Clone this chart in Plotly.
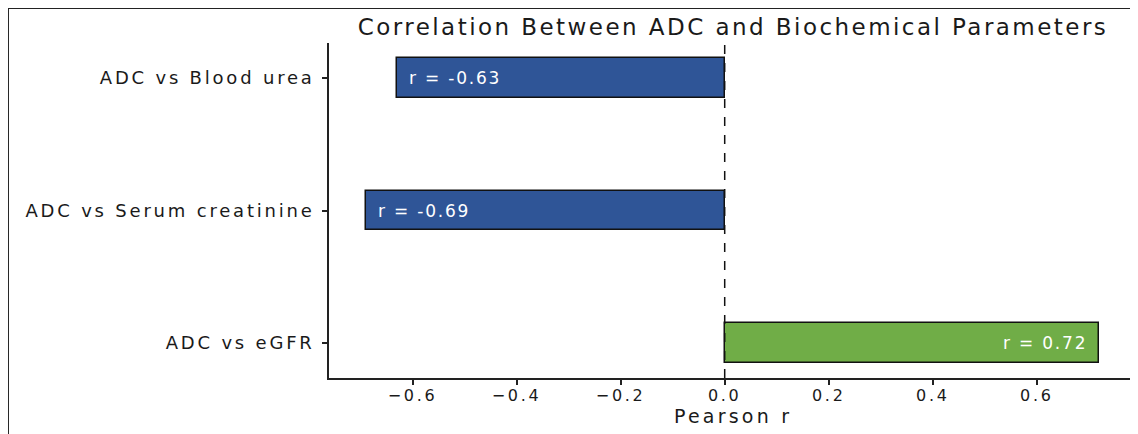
import plotly.graph_objects as go

categories = ["ADC vs eGFR", "ADC vs Serum creatinine", "ADC vs Blood urea"]
r_values = [0.72, -0.69, -0.63]
bar_colors = ["#70AD47", "#2F5597", "#2F5597"]
labels = [f"r = {v:.2f}" for v in r_values]
x_ticks = [-0.6, -0.4, -0.2, 0.0, 0.2, 0.4, 0.6]
title_text = "Correlation Between ADC and Biochemical Parameters"
x_title = "Pearson r"

FONT = "DejaVu Sans"
INK = "#1a1a1a"


def spaced(txt, px):
    return f'<span style="letter-spacing:{px}px">{txt}</span>'


def fmt_tick(v):
    s = f"{abs(v):.1f}"
    return ("\u2212" + s) if v < 0 else s


fig = go.Figure()
fig.add_trace(go.Bar(
    x=r_values, y=categories, orientation="h", width=0.3,
    marker=dict(color=bar_colors, line=dict(color="#111111", width=1.5)),
    hoverinfo="skip", showlegend=False,
))

for cat, v, lab in zip(categories, r_values, labels):
    neg = v < 0
    fig.add_annotation(x=v + 0.02 if neg else v - 0.02, y=cat, text=spaced(lab, 1.8),
                       showarrow=False, xanchor="left" if neg else "right",
                       yanchor="middle",
                       font=dict(family=FONT, size=17, color="white"))

# dashed zero line
fig.add_shape(type="line", xref="x", yref="paper", x0=0, x1=0, y0=0, y1=1,
              line=dict(color="#111111", width=1.5, dash="dash"))

# outer frame lines (top and left)
fig.add_shape(type="line", xref="paper", yref="paper", x0=-0.3978, x1=1.003, y0=1.1045, y1=1.1045,
              line=dict(color="#222222", width=2))
fig.add_shape(type="line", xref="paper", yref="paper", x0=-0.3978, x1=-0.3978, y0=-0.2, y1=1.1045,
              line=dict(color="#222222", width=2))

# x-axis title
fig.add_annotation(x=0.5, y=(370 - 408) / 335, xref="paper", yref="paper",
                   text=spaced(x_title, 3.2), showarrow=False,
                   xanchor="center", yanchor="middle",
                   font=dict(family=FONT, size=19, color=INK))

fig.update_layout(
    width=1130, height=426,
    margin=dict(l=321, r=2, t=35, b=56),
    paper_bgcolor="white", plot_bgcolor="white",
    font=dict(family=FONT, color=INK),
    title=dict(text=spaced(title_text, 2.45),
               x=725 / 1130, xref="container", xanchor="center",
               y=1 - 19 / 426, yref="container", yanchor="middle",
               font=dict(family=FONT, size=23, color=INK)),
    bargap=0,
)
fig.update_xaxes(
    range=[-0.7605, 0.7905], tickvals=x_ticks,
    ticktext=[spaced(fmt_tick(v), 2.7) for v in x_ticks],
    showgrid=False, zeroline=False,
    showline=True, linecolor="#222222", linewidth=1.5,
    ticks="outside", ticklen=5, tickwidth=1.5, tickcolor="#222222",
    ticklabelstandoff=-3,
    tickfont=dict(family=FONT, size=16, color=INK),
)
fig.update_yaxes(
    type="category", categoryorder="array", categoryarray=categories,
    tickvals=categories, ticktext=[spaced(c, 2.8) for c in categories],
    range=[-0.265, 2.265], showgrid=False, zeroline=False,
    showline=True, linecolor="#222222", linewidth=1.5,
    ticks="outside", ticklen=5, tickwidth=1.5, tickcolor="#222222",
    ticklabelstandoff=4,
    tickfont=dict(family=FONT, size=18, color=INK),
)

fig.write_html("out.html")
